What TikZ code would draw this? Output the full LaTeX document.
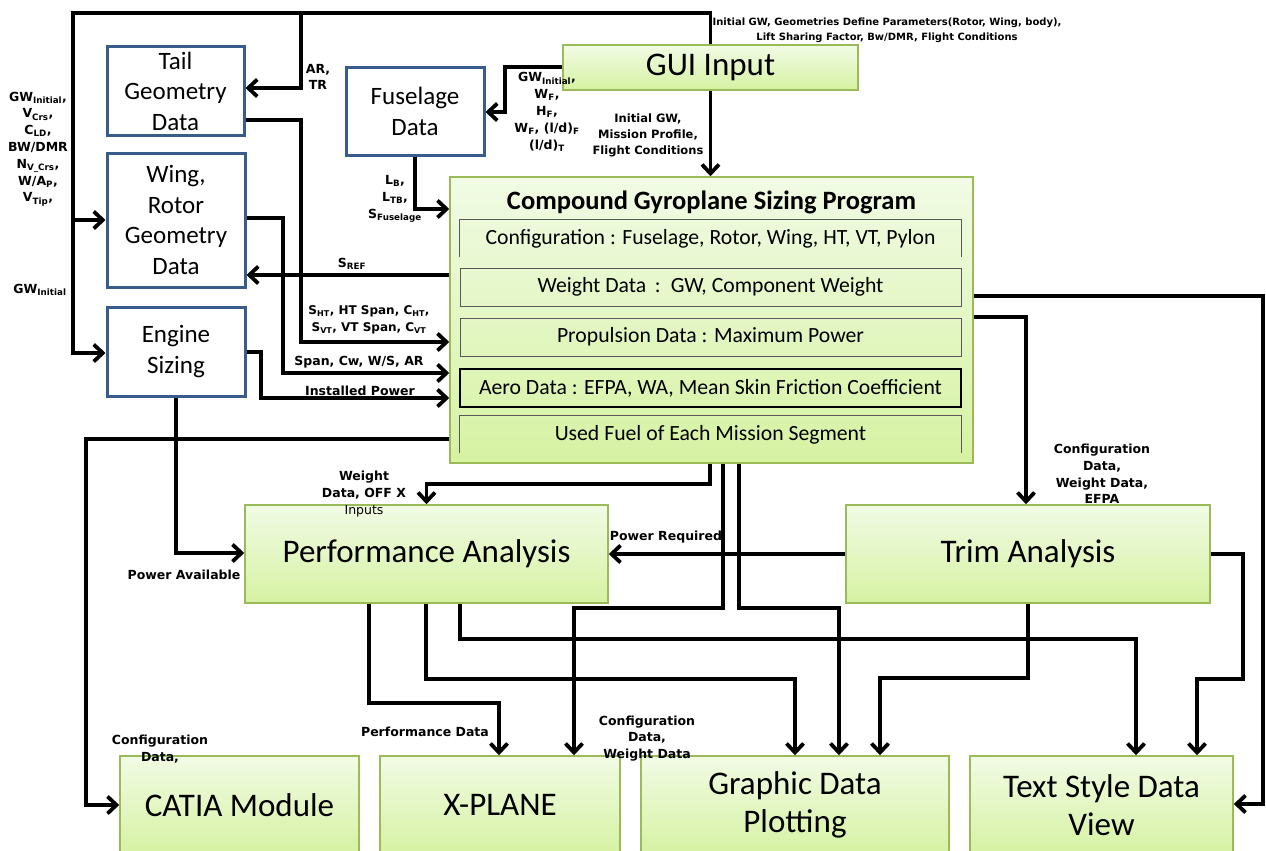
\documentclass[tikz,border=0pt]{standalone}
\usepackage{fontspec}
\setmainfont{Carlito}
\newfontfamily\lblfont{DejaVu Sans}
\usetikzlibrary{arrows.meta,calc}
\definecolor{gborder}{HTML}{9BBB59}
\definecolor{gtop}{HTML}{F1FBE5}
\definecolor{gbot}{HTML}{D6F2A2}
\definecolor{bborder}{HTML}{385D8A}
\definecolor{rowline}{HTML}{595959}
\tikzset{
  greenbox/.style={draw=gborder, line width=1.5pt, top color=gtop, bottom color=gbot, inner sep=0pt, align=center, font=\fontsize{33}{38}\selectfont},
  bluebox/.style={draw=bborder, line width=3pt, fill=white, inner sep=0pt, align=center, font=\fontsize{25}{30.5}\selectfont},
  rowbox/.style={inner sep=0pt, minimum width=501pt, font=\fontsize{21.7}{24}\selectfont},
  conn/.style={line width=3.8pt, -{Straight Barb[length=9pt,width=17pt]}},
  lbl/.style={font=\lblfont\bfseries\fontsize{12.5}{16.8}\selectfont, align=center, inner sep=0pt},
}
\begin{document}
\begin{tikzpicture}[x=1pt,y=-1pt]
\useasboundingbox (0,0) rectangle (1266,851);
\fill[white] (0,0) rectangle (1266,851);
\clip (0,0) rectangle (1266,851);

% ---------- blue boxes ----------
\node[bluebox, minimum width=137pt, minimum height=88pt] (tail) at (175.5,91) {Tail\\Geometry\\Data};
\node[bluebox, minimum width=138pt, minimum height=134pt] (wing) at (176,220) {Wing,\\Rotor\\Geometry\\Data};
\node[bluebox, minimum width=138pt, minimum height=89pt] (engine) at (176,351.5) {Engine\\Sizing};
\node[bluebox, minimum width=138pt, minimum height=87pt] (fuse) at (415,111.5) {Fuselage\\Data};

% ---------- green boxes ----------
\node[greenbox, minimum width=295pt, minimum height=45pt] (gui) at (710.5,67.5) {GUI Input};
\node[greenbox, minimum width=523pt, minimum height=286pt] (cgsp) at (711.5,320) {};
\node[font=\bfseries\fontsize{26.5}{30}\selectfont, inner sep=0pt] (title) at (711.5,202) {Compound Gyroplane Sizing Program};
\node[rowbox, minimum height=37pt] (r1) at (710.5,238.5) {Configuration : Fuselage, Rotor, Wing, HT, VT, Pylon};
\node[rowbox, minimum height=38pt, draw=rowline, line width=1pt] (r2) at (710.5,287) {Weight Data \,:\, GW, Component Weight};
\node[rowbox, minimum height=38pt, draw=rowline, line width=1pt] (r3) at (710.5,337) {Propulsion Data : Maximum Power};
\node[rowbox, minimum height=38pt, draw=black, line width=2pt] (r4) at (710.5,388) {Aero Data : EFPA, WA, Mean Skin Friction Coefficient};
\node[rowbox, minimum height=37pt] (r5) at (710.5,434.5) {Used Fuel of Each Mission Segment};
\draw[rowline, line width=1pt] (r1.south west) |- (r1.north east) -- (r1.south east);
\draw[rowline, line width=1pt] (r5.south west) |- (r5.north east) -- (r5.south east);

\node[greenbox, minimum width=363pt, minimum height=98pt] (perf) at (426.5,554) {Performance Analysis};
\node[greenbox, minimum width=364pt, minimum height=98pt] (trim) at (1028,554) {Trim Analysis};
\node[greenbox, minimum width=239pt, minimum height=98pt] (catia) at (239.5,805) {CATIA Module};
\node[greenbox, minimum width=240pt, minimum height=98pt] (xplane) at (500,805) {X-PLANE};
\node[greenbox, minimum width=308pt, minimum height=98pt] (graphic) at (795,805) {Graphic Data\\Plotting};
\node[greenbox, minimum width=263pt, minimum height=98pt] (textview) at (1101.5,805) {Text Style Data\\View};

% ---------- connectors ----------
\draw[conn] (gui.north) |- (73,13) |- (engine.west |- 0,353);
\draw[conn] (73,220) -- (wing.west |- 0,220);
\draw[conn] (301,13) |- (tail.east |- 0,88);
\draw[conn] (gui.south) -- (gui.south |- cgsp.north);
\draw[conn] (gui.west |- 0,67) -| (505,112) -- (fuse.east |- 0,112);
\draw[conn] (fuse.south) |- (cgsp.west |- 0,209);
\draw[conn] (cgsp.west |- 0,275) -- (wing.east |- 0,275);
\draw[conn] (tail.east |- 0,120) -| (301,342) -- (cgsp.west |- 0,342);
\draw[conn] (wing.east |- 0,218) -| (283,373) -- (cgsp.west |- 0,373);
\draw[conn] (engine.east |- 0,352) -| (261,398) -- (cgsp.west |- 0,398);
\draw[conn] (cgsp.west |- 0,439) -| (86,805) -- (catia.west |- 0,805);
\draw[conn] (engine.south) |- (perf.west |- 0,553);
\draw[conn] (cgsp.south -| 710,0) |- (perf.north |- 0,484) -- (perf.north);
\draw[conn] (cgsp.south -| 723,0) |- (574,608) -- (xplane.north -| 574,0);
\draw[conn] (cgsp.south -| 739,0) |- (839,608) -- (graphic.north -| 839,0);
\draw[conn] (cgsp.east |- 0,296) -| (1263,804) -- (textview.east |- 0,804);
\draw[conn] (cgsp.east |- 0,317) -| (trim.north -| 1026,0);
\draw[conn] (trim.west) -- (perf.east);
\draw[conn] (trim.east) -| (1243,679) -| (textview.north -| 1197,0);
\draw[conn] (trim.south) |- (880,678) -- (graphic.north -| 880,0);
\draw[conn] (perf.south -| 426,0) |- (795,679) -- (graphic.north -| 795,0);
\draw[conn] (perf.south -| 460,0) |- (1136,639) -- (textview.north -| 1136,0);
\draw[conn] (perf.south -| 369,0) |- (499,703) -- (xplane.north -| 499,0);

% ---------- labels ----------
\node[lbl] (lAR) at (318,77) {AR,\\TR};
\node[lbl, font=\lblfont\bfseries\fontsize{10}{15}\selectfont] (lTop) at (887,30) {Initial GW, Geometries Define Parameters(Rotor, Wing, body),\\Lift Sharing Factor, Bw/DMR, Flight Conditions};
\node[lbl] (lLeft) at (38,149) {GW\textsubscript{Initial},\\V\textsubscript{Crs},\\C\textsubscript{LD},\\BW/DMR\\N\textsubscript{V\_Crs},\\W/A\textsubscript{P},\\V\textsubscript{Tip},};
\node[lbl] (lGW) at (40,290) {GW\textsubscript{Initial}};
\node[lbl] (lFuseOut) at (395,199) {L\textsubscript{B},\\L\textsubscript{TB},\\S\textsubscript{Fuselage}};
\node[lbl] (lFuseIn) at (547,112) {GW\textsubscript{Initial},\\W\textsubscript{F},\\H\textsubscript{F},\\W\textsubscript{F}, (l/d)\textsubscript{F}\\(l/d)\textsubscript{T}};
\node[lbl, font=\lblfont\bfseries\fontsize{11.5}{16}\selectfont] (lMission) at (648,135) {Initial GW,\\Mission Profile,\\Flight Conditions};
\node[lbl] (lSref) at (352,264) {S\textsubscript{REF}};
\node[lbl, font=\lblfont\bfseries\fontsize{12}{17}\selectfont] (lTailOut) at (369,319.5) {S\textsubscript{HT}, HT Span, C\textsubscript{HT},\\S\textsubscript{VT}, VT Span, C\textsubscript{VT}};
\node[lbl] (lSpan) at (359,362) {Span, Cw, W/S, AR};
\node[lbl] (lInst) at (360,391) {Installed Power};
\node[lbl] (lWD) at (364,494) {Weight\\Data, OFF X\\{\mdseries Inputs}};
\node[lbl] (lPA) at (184,575) {Power Available};
\node[lbl] (lPR) at (666,537) {Power Required};
\node[lbl] (lTrimIn) at (1102,474) {Configuration\\Data,\\Weight Data,\\EFPA};
\node[lbl] (lPD) at (425,732) {Performance Data};
\node[lbl] (lCW) at (647,738.5) {Configuration\\Data,\\Weight Data};
\node[lbl] (lCD) at (160,749.5) {Configuration\\Data,};
\end{tikzpicture}
\end{document}
